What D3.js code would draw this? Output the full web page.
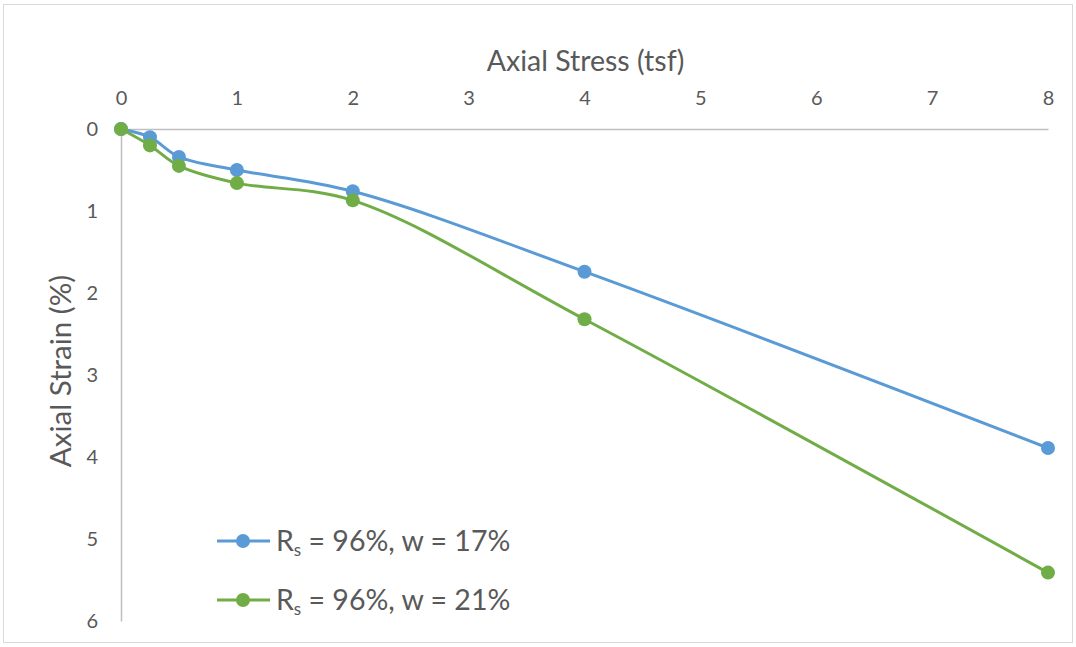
<!DOCTYPE html>
<html>
<head>
<meta charset="utf-8">
<script src="https://cdn.jsdelivr.net/npm/d3@7"></script>
<style>
  html, body { margin: 0; padding: 0; background: #fff; }
  svg { display: block; font-family: Lato, "Open Sans", sans-serif; }
  .tick text { font-family: Lato, "Open Sans", sans-serif; font-size: 20px; fill: #595959; }
</style>
</head>
<body>
<svg id="chart" width="1076" height="647"></svg>
<script>
// Axial stress (tsf) applied at each load step
const stress = [0, 0.25, 0.5, 1, 2, 4, 8];
// Axial strain (%) for the two specimens
const strainW17 = [0, 0.10, 0.34, 0.50, 0.76, 1.74, 3.89];
const strainW21 = [0, 0.20, 0.45, 0.66, 0.87, 2.32, 5.41];
const seriesNames = ["w = 17%", "w = 21%"];
const xTicks = [0, 1, 2, 3, 4, 5, 6, 7, 8];
const yTicks = [0, 1, 2, 3, 4, 5, 6];

const series = [
  { name: seriesNames[0], values: strainW17, color: "#5b9bd5" },
  { name: seriesNames[1], values: strainW21, color: "#70ad47" }
];

const svg = d3.select("#chart");

// outer chart frame
svg.append("rect")
  .attr("x", 3.5).attr("y", 4.5).attr("width", 1069).attr("height", 638)
  .attr("fill", "#fff").attr("stroke", "#d9d9d9").attr("stroke-width", 1);

const x = d3.scaleLinear().domain([0, 8]).range([121, 1048]);
const y = d3.scaleLinear().domain([0, 6]).range([129, 621]);

// top x axis
const xAxis = svg.append("g").attr("transform", `translate(0,${y(0)})`)
  .call(d3.axisTop(x).tickValues(xTicks).tickSize(0).tickPadding(24).tickFormat(d3.format("d")));
xAxis.attr("font-size", null).attr("font-family", null);
xAxis.select(".domain").attr("stroke", "#bfbfbf").attr("stroke-width", 1.5);

// left y axis (strain increasing downward)
const yAxis = svg.append("g").attr("transform", `translate(${x(0)},0)`)
  .call(d3.axisLeft(y).tickValues(yTicks).tickSize(0).tickPadding(23).tickFormat(d3.format("d")));
yAxis.attr("font-size", null).attr("font-family", null);
yAxis.select(".domain").attr("stroke", "#bfbfbf").attr("stroke-width", 1.5);

// axis titles
svg.append("text")
  .attr("x", (483 + 688) / 2).attr("y", 71)
  .attr("text-anchor", "middle")
  .attr("fill", "#595959").style("font-size", "28.5px")
  .text("Axial Stress (tsf)");

svg.append("text")
  .attr("transform", "translate(71,371) rotate(-90)")
  .attr("text-anchor", "middle")
  .attr("fill", "#595959").style("font-size", "29.5px")
  .text("Axial Strain (%)");

// smoothed curves with markers
const line = d3.line()
  .x((d, i) => x(stress[i]))
  .y(d => y(d))
  .curve(d3.curveCatmullRom.alpha(0.5));

series.forEach(s => {
  svg.append("path")
    .attr("d", line(s.values))
    .attr("fill", "none")
    .attr("stroke", s.color)
    .attr("stroke-width", 3)
    .attr("stroke-linejoin", "round")
    .attr("stroke-linecap", "round");
  svg.append("g").selectAll("circle")
    .data(s.values)
    .join("circle")
    .attr("cx", (d, i) => x(stress[i]))
    .attr("cy", d => y(d))
    .attr("r", 7)
    .attr("fill", s.color);
});

// legend
const legend = svg.append("g");
series.forEach((s, i) => {
  const ly = 541 + i * 59;
  legend.append("line")
    .attr("x1", 217).attr("x2", 270).attr("y1", ly).attr("y2", ly)
    .attr("stroke", s.color).attr("stroke-width", 3);
  legend.append("circle")
    .attr("cx", 243).attr("cy", ly).attr("r", 7).attr("fill", s.color);
  const t = legend.append("text")
    .attr("x", 276).attr("y", ly + 10)
    .attr("fill", "#595959").style("font-size", "28.5px");
  t.append("tspan").text("R");
  t.append("tspan").attr("dy", 5).style("font-size", "17px").text("s");
  t.append("tspan").attr("dy", -5).text(" = 96%, " + s.name);
});
</script>
</body>
</html>
